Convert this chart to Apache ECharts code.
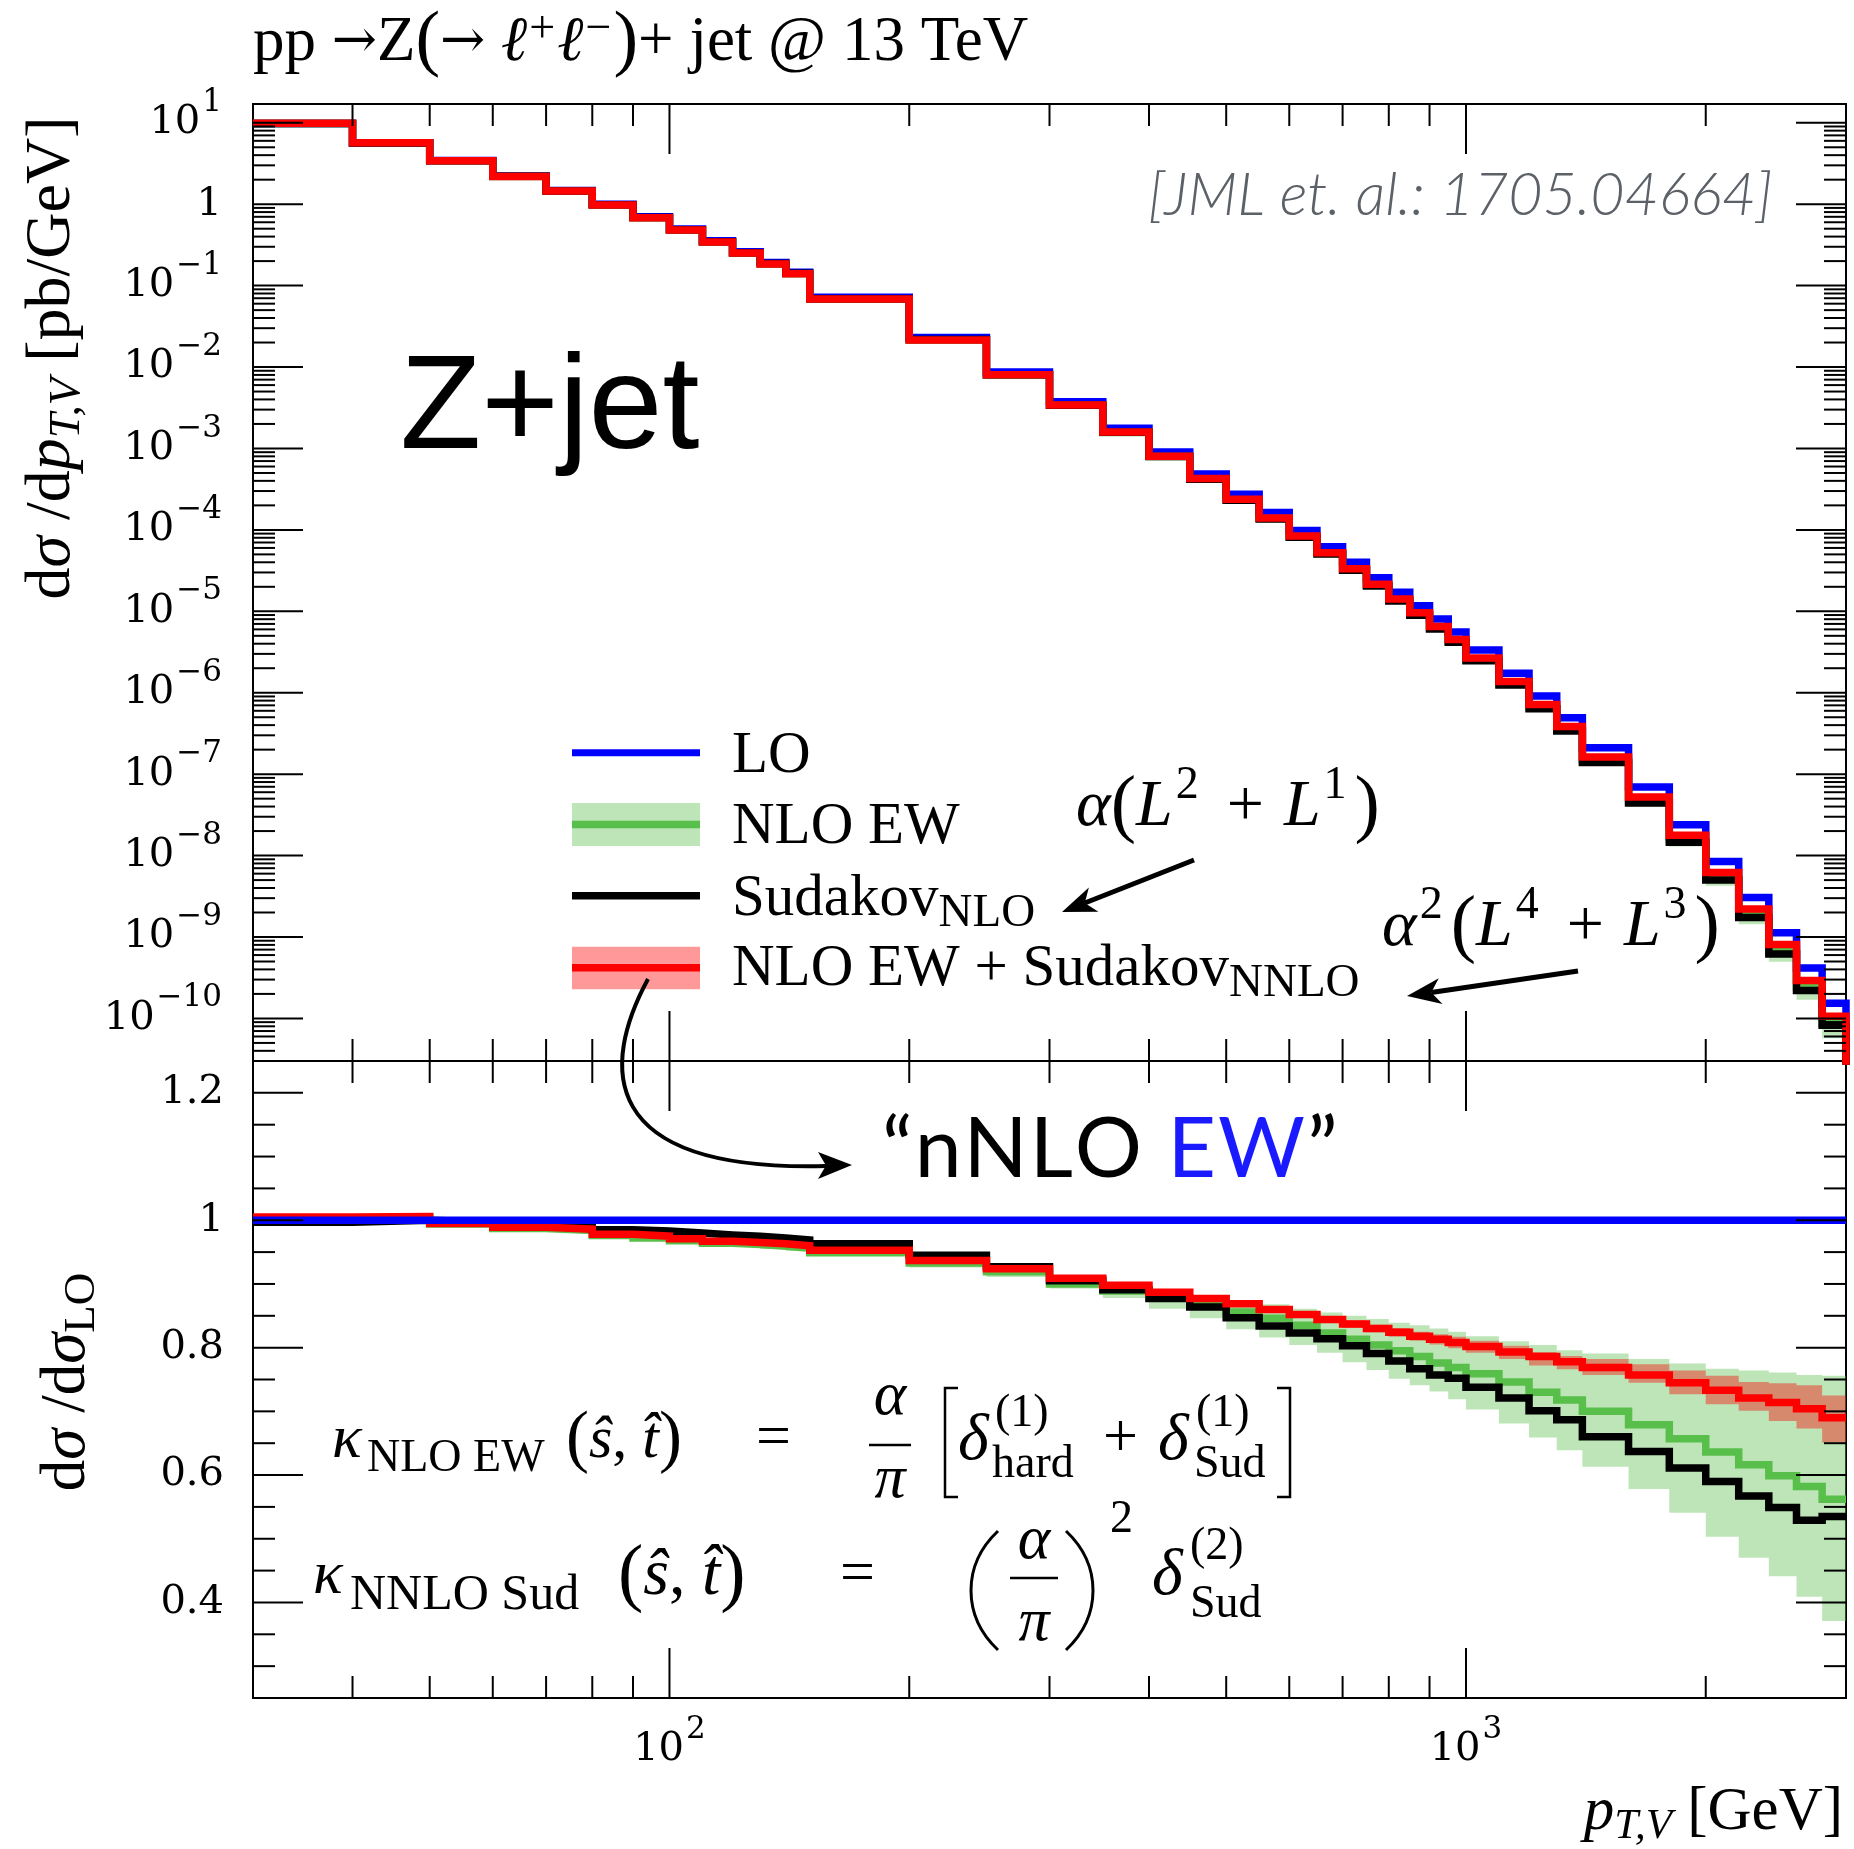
<!DOCTYPE html>
<html>
<head>
<meta charset="utf-8">
<script src="https://cdn.jsdelivr.net/npm/echarts@6.0.0/dist/echarts.min.js"></script>
<style>
  html, body { margin: 0; padding: 0; background: #ffffff; }
  #chart { width: 1854px; height: 1849px; }
</style>
</head>
<body>
<div id="chart"></div>
<script>
// ---------------------------------------------------------------------------
// Z+jet transverse-momentum spectrum at 13 TeV and ratios to LO
// ---------------------------------------------------------------------------

// Histogram bin edges in p_T,V [GeV]
const binEdges = [30, 40, 50, 60, 70, 80, 90, 100, 110, 120, 130, 140, 150, 200, 250, 300, 350, 400, 450, 500,
  550, 600, 650, 700, 750, 800, 850, 900, 950, 1000, 1100, 1200, 1300, 1400, 1600, 1800, 2000, 2200, 2400, 2600, 2800, 3000];

// LO differential cross section dσ/dp_T,V [pb/GeV]
const sigmaLO = [9.8, 5.64, 3.43, 2.22, 1.47, 1.0, 0.70, 0.495, 0.355, 0.26, 0.192, 0.146, 0.0718, 0.0230, 0.0087,
  0.00376, 0.00177, 9.06e-4, 4.86e-4, 2.73e-4, 1.63e-4, 9.86e-5, 6.22e-5, 3.99e-5, 2.59e-5, 1.72e-5, 1.17e-5,
  8.03e-6, 5.56e-6, 3.34e-6, 1.73e-6, 9.1e-7, 4.93e-7, 2.11e-7, 6.94e-8, 2.39e-8, 8.48e-9, 3.06e-9, 1.13e-9,
  4.15e-10, 1.54e-10];

// Ratios to LO
const ratioLO = [1, 1, 1, 1, 1, 1, 1, 1, 1, 1, 1, 1, 1, 1, 1, 1, 1, 1, 1, 1, 1, 1, 1, 1, 1, 1, 1, 1, 1, 1, 1, 1, 1,
  1, 1, 1, 1, 1, 1, 1, 1];
const ratioNLOEW = [1.002, 1.004, 0.994, 0.987, 0.984, 0.976, 0.972, 0.968, 0.964, 0.962, 0.959, 0.956, 0.949, 0.933,
  0.919, 0.900, 0.889, 0.878, 0.867, 0.856, 0.846, 0.835, 0.823, 0.813, 0.804, 0.795, 0.786, 0.776, 0.769, 0.759,
  0.746, 0.730, 0.718, 0.700, 0.679, 0.657, 0.636, 0.616, 0.599, 0.582, 0.562];
const ratioNLOEWLow = [0.999, 1.001, 0.991, 0.984, 0.981, 0.973, 0.969, 0.965, 0.961, 0.958, 0.955, 0.952, 0.944,
  0.926, 0.911, 0.893, 0.878, 0.861, 0.846, 0.829, 0.816, 0.804, 0.792, 0.777, 0.765, 0.751, 0.741, 0.731, 0.719,
  0.703, 0.681, 0.659, 0.639, 0.613, 0.578, 0.541, 0.503, 0.470, 0.441, 0.409, 0.371];
const ratioNLOEWHigh = [1.005, 1.007, 0.997, 0.990, 0.987, 0.979, 0.975, 0.971, 0.967, 0.965, 0.962, 0.959, 0.953,
  0.938, 0.925, 0.906, 0.898, 0.889, 0.881, 0.875, 0.868, 0.861, 0.855, 0.850, 0.845, 0.839, 0.835, 0.830, 0.825,
  0.818, 0.810, 0.804, 0.796, 0.791, 0.782, 0.775, 0.767, 0.764, 0.761, 0.757, 0.756];
const ratioSudakovNLO = [0.997, 1.000, 0.997, 0.993, 0.989, 0.985, 0.983, 0.980, 0.977, 0.975, 0.972, 0.969, 0.963,
  0.945, 0.927, 0.905, 0.891, 0.877, 0.864, 0.847, 0.834, 0.823, 0.814, 0.803, 0.791, 0.779, 0.767, 0.757, 0.752,
  0.738, 0.721, 0.701, 0.687, 0.660, 0.637, 0.611, 0.590, 0.567, 0.549, 0.529, 0.535];
const ratioNNLOSud = [1.005, 1.006, 0.995, 0.989, 0.986, 0.978, 0.975, 0.971, 0.967, 0.965, 0.963, 0.960, 0.953,
  0.937, 0.924, 0.909, 0.898, 0.887, 0.877, 0.869, 0.860, 0.852, 0.844, 0.837, 0.830, 0.824, 0.818, 0.813, 0.808,
  0.802, 0.793, 0.786, 0.778, 0.769, 0.757, 0.745, 0.733, 0.721, 0.714, 0.704, 0.690];
const ratioNNLOSudLow = [1.002, 1.003, 0.992, 0.986, 0.983, 0.975, 0.972, 0.968, 0.964, 0.962, 0.960, 0.957, 0.950,
  0.933, 0.920, 0.905, 0.893, 0.882, 0.872, 0.864, 0.855, 0.847, 0.839, 0.831, 0.824, 0.817, 0.811, 0.805, 0.799,
  0.792, 0.782, 0.772, 0.766, 0.757, 0.745, 0.727, 0.711, 0.701, 0.685, 0.673, 0.651];
const ratioNNLOSudHigh = [1.008, 1.009, 0.998, 0.992, 0.989, 0.981, 0.978, 0.974, 0.970, 0.968, 0.966, 0.963, 0.956,
  0.941, 0.928, 0.913, 0.903, 0.892, 0.882, 0.874, 0.865, 0.857, 0.849, 0.843, 0.836, 0.831, 0.825, 0.821, 0.817,
  0.811, 0.803, 0.793, 0.787, 0.782, 0.774, 0.764, 0.756, 0.746, 0.744, 0.741, 0.725];

// Axis ticks and tick labels
const xTickValues = [100, 1000];
const xTickLabels = [['10', '2'], ['10', '3']];
const xMinorTickValues = [40, 50, 60, 70, 80, 90, 200, 300, 400, 500, 600, 700, 800, 900, 2000];
const yMainTickValues = [10, 1, 1e-1, 1e-2, 1e-3, 1e-4, 1e-5, 1e-6, 1e-7, 1e-8, 1e-9, 1e-10];
const yMainTickLabels = [['10', '1'], ['1', ''], ['10', '−1'], ['10', '−2'], ['10', '−3'], ['10', '−4'],
  ['10', '−5'], ['10', '−6'], ['10', '−7'], ['10', '−8'], ['10', '−9'], ['10', '−10']];
const yMainMinorMultipliers = [2, 3, 4, 5, 6, 7, 8, 9];
const yRatioTickValues = [1.2, 1.0, 0.8, 0.6, 0.4];
const yRatioTickLabels = ['1.2', '1', '0.8', '0.6', '0.4'];
const yRatioMinorTickValues = [0.3, 0.35, 0.45, 0.5, 0.55, 0.65, 0.7, 0.75, 0.85, 0.9, 0.95, 1.05, 1.1, 1.15];

// Axis ranges
const X_MIN = 30, X_MAX = 3000;
const Y_MAIN_MIN = 3e-11, Y_MAIN_MAX = 17;
const Y_RATIO_MIN = 0.25, Y_RATIO_MAX = 1.25;
const HISTOGRAM_FLOOR = 1e-12; // histogram closes down to zero below the last edge

// Colours
const C_LO = '#0000ff';
const C_NLO = '#59bf4b';
const C_NLO_BAND = 'rgba(89,191,75,0.4)';
const C_SUD = '#000000';
const C_NNLO = '#ff0000';
const C_NNLO_BAND = 'rgba(255,0,0,0.4)';

const serif = '"Liberation Serif", "DejaVu Serif", serif';
const numSerif = '"DejaVu Serif", "Liberation Serif", serif';
const sans = '"Liberation Sans", Arial, sans-serif';

// Absolute spectra: LO times the respective ratio
const sigmaNLOEW = sigmaLO.map((v, i) => v * ratioNLOEW[i]);
const sigmaSudakovNLO = sigmaLO.map((v, i) => v * ratioSudakovNLO[i]);
const sigmaNNLOSud = sigmaLO.map((v, i) => v * ratioNNLOSud[i]);
const sigmaNLOEWLow = sigmaLO.map((v, i) => v * ratioNLOEWLow[i]);
const sigmaNLOEWHigh = sigmaLO.map((v, i) => v * ratioNLOEWHigh[i]);
const sigmaNNLOSudLow = sigmaLO.map((v, i) => v * ratioNNLOSudLow[i]);
const sigmaNNLOSudHigh = sigmaLO.map((v, i) => v * ratioNNLOSudHigh[i]);

// ---------------------------------------------------------------------------
// helpers
// ---------------------------------------------------------------------------
function histogramPoints(values, closeTo) {
  const pts = values.map((v, i) => [binEdges[i], v]);
  pts.push([binEdges[values.length], values[values.length - 1]]);
  if (closeTo !== undefined) pts.push([binEdges[values.length], closeTo]);
  return pts;
}

function stepSeries(panel, values, color, z, closeTo) {
  return {
    type: 'line', xAxisIndex: panel, yAxisIndex: panel, step: 'end',
    data: histogramPoints(values, closeTo),
    symbol: 'none', showSymbol: false, silent: true, clip: true, z: z,
    emphasis: { disabled: true },
    lineStyle: { color: color, width: 7.5, join: 'miter', cap: 'butt' }
  };
}

function bandSeries(panel, low, high, color, z) {
  return {
    type: 'custom', xAxisIndex: panel, yAxisIndex: panel, silent: true, clip: true, z: z,
    data: [[binEdges[0], low[0]]],
    renderItem: function (params, api) {
      const upper = [], lower = [];
      for (let i = 0; i < low.length; i++) {
        upper.push(api.coord([binEdges[i], high[i]]), api.coord([binEdges[i + 1], high[i]]));
        lower.push(api.coord([binEdges[i], low[i]]), api.coord([binEdges[i + 1], low[i]]));
      }
      return { type: 'polygon', shape: { points: upper.concat(lower.reverse()) }, style: { fill: color } };
    }
  };
}

const MAJOR_LEN = 50, MINOR_LEN = 22;

const tickRich = {
  b: { fontFamily: numSerif, fontSize: 40, lineHeight: 46, fill: '#000' },
  s: { fontFamily: numSerif, fontSize: 31, lineHeight: 34, padding: [0, 0, 40, 2], fill: '#000' }
};

function textEl(x, y, text, align, rich) {
  return {
    type: 'text', x: x, y: y,
    style: {
      text: text, x: 0, y: 0, align: align, verticalAlign: 'middle',
      textAlign: align, textVerticalAlign: 'middle', rich: rich, fill: '#000',
      fontFamily: numSerif, fontSize: 40
    }
  };
}

function frameTicks(panel) {
  return {
    type: 'custom', xAxisIndex: panel, yAxisIndex: panel, silent: true, clip: false, z: 30,
    data: [[100, 1]],
    renderItem: function (params, api) {
      const cs = params.coordSys;
      const L = cs.x, R = cs.x + cs.width, T = cs.y, B = cs.y + cs.height;
      const els = [];
      const seg = (x1, y1, x2, y2) => els.push({
        type: 'line', shape: { x1: x1, y1: y1, x2: x2, y2: y2 },
        style: { stroke: '#000', lineWidth: 2 }
      });
      const xPix = v => api.coord([v, 1])[0];
      const yPix = v => api.coord([100, v])[1];

      xTickValues.forEach(v => { const x = xPix(v); seg(x, T, x, T + MAJOR_LEN); seg(x, B, x, B - MAJOR_LEN); });
      xMinorTickValues.forEach(v => { const x = xPix(v); seg(x, T, x, T + MINOR_LEN); seg(x, B, x, B - MINOR_LEN); });

      let yMajor, yMinor;
      if (panel === 0) {
        yMajor = yMainTickValues;
        yMinor = [];
        for (let e = -11; e <= 1; e++) {
          yMainMinorMultipliers.forEach(m => {
            const v = m * Math.pow(10, e);
            if (v > Y_MAIN_MIN && v < Y_MAIN_MAX) yMinor.push(v);
          });
        }
      } else {
        yMajor = yRatioTickValues;
        yMinor = yRatioMinorTickValues;
      }
      yMajor.forEach(v => { const y = yPix(v); seg(L, y, L + MAJOR_LEN, y); seg(R, y, R - MAJOR_LEN, y); });
      yMinor.forEach(v => { const y = yPix(v); seg(L, y, L + MINOR_LEN, y); seg(R, y, R - MINOR_LEN, y); });

      // tick labels
      if (panel === 0) {
        yMainTickValues.forEach((v, i) => {
          const lab = yMainTickLabels[i];
          const t = lab[1] ? '{b|' + lab[0] + '}{s|' + lab[1] + '}' : '{b|' + lab[0] + '}';
          els.push(textEl(L - 31, yPix(v), t, 'right', tickRich));
        });
      } else {
        yRatioTickValues.forEach((v, i) => {
          els.push(textEl(L - 29, yPix(v), '{b|' + yRatioTickLabels[i] + '}', 'right', tickRich));
        });
        xTickValues.forEach((v, i) => {
          const lab = xTickLabels[i];
          els.push(textEl(xPix(v), B + 52, '{b|' + lab[0] + '}{s|' + lab[1] + '}', 'center', tickRich));
        });
      }
      return { type: 'group', children: els };
    }
  };
}

// ---------------------------------------------------------------------------
// annotation graphics (titles, legend, formulas)
// ---------------------------------------------------------------------------
function rt(x, y, text, rich, opts) {
  opts = opts || {};
  return {
    type: 'text', x: x, y: y, rotation: opts.rotation || 0, z: 100, silent: true,
    style: {
      text: text, x: 0, y: 0,
      align: opts.align || 'left', verticalAlign: 'middle',
      textAlign: opts.align || 'left', textVerticalAlign: 'middle',
      rich: rich, fill: opts.fill || '#000',
      font: opts.font || ('56px ' + serif)
    }
  };
}

function mathRich(size, subSize, gap) {
  gap = gap || 0;
  return {
    r: { fontFamily: serif, fontSize: size, fill: '#000' },
    i: { fontFamily: serif, fontSize: size, fontStyle: 'italic', fill: '#000' },
    p: { fontFamily: serif, fontSize: Math.round(size * 1.15), fill: '#000' },
    op: { fontFamily: serif, fontSize: size, padding: [0, gap, 0, gap], fill: '#000' },
    sub: { fontFamily: serif, fontSize: subSize, padding: [30, 0, 0, 1], fill: '#000' },
    sup: { fontFamily: serif, fontSize: subSize, padding: [0, 8, 44, 3], fill: '#000' }
  };
}

function arrow(tail, tip, width, headLen, headHalf) {
  const dx = tip[0] - tail[0], dy = tip[1] - tail[1];
  const d = Math.hypot(dx, dy), ux = dx / d, uy = dy / d, nx = -uy, ny = ux;
  const bx = tip[0] - ux * headLen, by = tip[1] - uy * headLen;
  const notch = [tip[0] - ux * headLen * 0.72, tip[1] - uy * headLen * 0.72];
  return [
    { type: 'line', z: 100, silent: true,
      shape: { x1: tail[0], y1: tail[1], x2: notch[0], y2: notch[1] },
      style: { stroke: '#000', lineWidth: width } },
    { type: 'polygon', z: 100, silent: true,
      shape: { points: [tip, [bx + nx * headHalf, by + ny * headHalf], notch, [bx - nx * headHalf, by - ny * headHalf]] },
      style: { fill: '#000' } }
  ];
}

// letter-spaced label: every character gets its own rich token
function spaced(str, style) {
  return str.split('').map(ch => '{' + style + '|' + ch + '}').join('');
}

const legendRich = {
  r: { fontFamily: serif, fontSize: 59, fill: '#000' },
  sub: { fontFamily: serif, fontSize: 47, padding: [30, 0, 0, 0], fill: '#000' }
};

const m66 = mathRich(66, 46, 20);
const subRich46 = { r: { fontFamily: serif, fontSize: 46 } };

const graphics = [
  // process title
  rt(253, 43, '{r|pp }{a|→}{r|Z}{p|(}{a|→}{r| }{i|ℓ}{u|+}{i|ℓ}{u|−}{p|)}{r|+ jet @ 13 TeV}', {
    r: { fontFamily: serif, fontSize: 63 },
    a: { fontFamily: '"DejaVu Serif", serif', fontSize: 54 },
    i: { fontFamily: serif, fontSize: 63, fontStyle: 'italic' },
    p: { fontFamily: serif, fontSize: 74 },
    u: { fontFamily: serif, fontSize: 46, padding: [0, 2, 26, 2] }
  }),
  // axis titles
  rt(52, 358, '{r|d}{i|σ}{r| /d}{i|p}{subi|T,V}{r| [pb/GeV]}', {
    r: { fontFamily: serif, fontSize: 64 },
    i: { fontFamily: serif, fontSize: 64, fontStyle: 'italic' },
    subi: { fontFamily: serif, fontSize: 45, fontStyle: 'italic', padding: [30, 0, 0, 0] }
  }, { rotation: Math.PI / 2, align: 'center' }),
  rt(67, 1382, '{r|d}{i|σ}{r| /d}{i|σ}{sub|LO}', {
    r: { fontFamily: serif, fontSize: 63 },
    i: { fontFamily: serif, fontSize: 63, fontStyle: 'italic' },
    sub: { fontFamily: serif, fontSize: 45, padding: [30, 0, 0, 0] }
  }, { rotation: Math.PI / 2, align: 'center' }),
  rt(1843, 1813, '{i|p}{subi|T,V}{r| [GeV]}', {
    r: { fontFamily: serif, fontSize: 61 },
    i: { fontFamily: serif, fontSize: 61, fontStyle: 'italic' },
    subi: { fontFamily: serif, fontSize: 43, fontStyle: 'italic', padding: [28, 0, 0, 0] }
  }, { align: 'right' }),
  // process label and reference
  rt(400, 411, 'Z+jet', null, { font: '133px ' + sans }),
  rt(1148, 196, '[JML et. al.: 1705.04664]', null, { font: 'italic 300 59px Lato, ' + sans, fill: '#5c6168' }),

  // legend symbols
  { type: 'line', z: 100, silent: true, shape: { x1: 572, y1: 752.7, x2: 700, y2: 752.7 }, style: { stroke: C_LO, lineWidth: 7 } },
  { type: 'rect', z: 100, silent: true, shape: { x: 572, y: 803, width: 128, height: 43 }, style: { fill: C_NLO_BAND } },
  { type: 'line', z: 101, silent: true, shape: { x1: 572, y1: 824.5, x2: 700, y2: 824.5 }, style: { stroke: C_NLO, lineWidth: 7.5 } },
  { type: 'line', z: 100, silent: true, shape: { x1: 572, y1: 895.8, x2: 700, y2: 895.8 }, style: { stroke: C_SUD, lineWidth: 7.5 } },
  { type: 'rect', z: 100, silent: true, shape: { x: 572, y: 946.7, width: 128, height: 42.6 }, style: { fill: C_NNLO_BAND } },
  { type: 'line', z: 101, silent: true, shape: { x1: 572, y1: 967.8, x2: 700, y2: 967.8 }, style: { stroke: C_NNLO, lineWidth: 7.5 } },
  // legend labels
  rt(732, 756, '{r|LO}', legendRich),
  rt(732, 827, '{r|NLO EW}', legendRich),
  rt(732, 899, '{r|Sudakov}{sub|NLO}', legendRich),
  rt(732, 969, '{r|NLO EW + Sudakov}{sub|NNLO}', legendRich),

  // logarithmic-order annotations
  rt(1076, 808, '{i|α}{p|(}{i|L}{sup|2}{op|+}{i|L}{sup|1}{p|)}', m66),
  rt(1382, 928, '{i|α}{sup|2}{p|(}{i|L}{sup|4}{op|+}{i|L}{sup|3}{p|)}', m66),
  ...arrow([1194, 860], [1062, 912], 5, 34, 13),
  ...arrow([1578, 971], [1407, 996], 5, 34, 13),

  // nNLO EW label with curved arrow from the legend
  rt(881, 1150, spaced('“nNLO ', 'q') + spaced('EW', 'e') + spaced('”', 'q'), {
    q: { fontFamily: 'Lato, ' + sans, fontWeight: 400, fontSize: 84, padding: [0, 1, 0, 1], fill: '#000' },
    e: { fontFamily: 'Lato, ' + sans, fontWeight: 400, fontSize: 84, padding: [0, 1, 0, 1], fill: '#1a1aff' }
  }),
  { type: 'bezierCurve', z: 100, silent: true,
    shape: { x1: 648, y1: 979, cpx1: 602, cpy1: 1064, cpx2: 594, cpy2: 1172, x2: 826, y2: 1166 },
    style: { stroke: '#000', lineWidth: 4, fill: null } },
  { type: 'polygon', z: 100, silent: true,
    shape: { points: [[852, 1165], [818, 1152], [826, 1165.5], [818, 1179]] }, style: { fill: '#000' } },

  // kappa_NLO EW formula
  rt(332, 1441, '{i|κ}', mathRich(62, 44)),
  rt(367, 1459, '{r|NLO EW}', subRich46),
  rt(566, 1441, '{p|(}{i|ŝ}{r|, }{i|t̂}{p|)}', mathRich(60, 44)),
  rt(756, 1440, '{r|=}', mathRich(62, 44)),
  rt(890, 1398, '{i|α}', mathRich(62, 44), { align: 'center' }),
  { type: 'line', z: 100, silent: true, shape: { x1: 869, y1: 1445, x2: 911, y2: 1445 }, style: { stroke: '#000', lineWidth: 2.5 } },
  rt(890, 1481, '{i|π}', mathRich(62, 44), { align: 'center' }),
  { type: 'polyline', z: 100, silent: true, shape: { points: [[958, 1388], [945, 1388], [945, 1497], [958, 1497]] },
    style: { stroke: '#000', lineWidth: 2.5, fill: null } },
  rt(958, 1442, '{i|δ}', mathRich(66, 44)),
  rt(995, 1414, '{r|(1)}', subRich46),
  rt(992, 1465, '{r|hard}', subRich46),
  rt(1103, 1440, '{r|+}', mathRich(62, 44)),
  rt(1158, 1442, '{i|δ}', mathRich(66, 44)),
  rt(1196, 1414, '{r|(1)}', subRich46),
  rt(1194, 1465, '{r|Sud}', subRich46),
  { type: 'polyline', z: 100, silent: true, shape: { points: [[1277, 1388], [1290, 1388], [1290, 1497], [1277, 1497]] },
    style: { stroke: '#000', lineWidth: 2.5, fill: null } },

  // kappa_NNLO Sud formula
  rt(313, 1577, '{i|κ}', mathRich(62, 44)),
  rt(350, 1596, '{r|NNLO Sud}', { r: { fontFamily: serif, fontSize: 50 } }),
  rt(618, 1577, '{p|(}{i|ŝ}{r|, }{i|t̂}{p|)}', mathRich(66, 44)),
  rt(840, 1576, '{r|=}', mathRich(62, 44)),
  { type: 'bezierCurve', z: 100, silent: true,
    shape: { x1: 998, y1: 1531, cpx1: 962, cpy1: 1565, cpx2: 962, cpy2: 1616, x2: 998, y2: 1650 },
    style: { stroke: '#000', lineWidth: 3, fill: null } },
  rt(1034, 1542, '{i|α}', mathRich(62, 44), { align: 'center' }),
  { type: 'line', z: 100, silent: true, shape: { x1: 1010, y1: 1578, x2: 1058, y2: 1578 }, style: { stroke: '#000', lineWidth: 2.5 } },
  rt(1034, 1624, '{i|π}', mathRich(62, 44), { align: 'center' }),
  { type: 'bezierCurve', z: 100, silent: true,
    shape: { x1: 1066, y1: 1531, cpx1: 1102, cpy1: 1565, cpx2: 1102, cpy2: 1616, x2: 1066, y2: 1650 },
    style: { stroke: '#000', lineWidth: 3, fill: null } },
  rt(1110, 1520, '{r|2}', subRich46),
  rt(1152, 1577, '{i|δ}', mathRich(66, 44)),
  rt(1190, 1547, '{r|(2)}', subRich46),
  rt(1190, 1605, '{r|Sud}', subRich46)
];

// ---------------------------------------------------------------------------
// chart
// ---------------------------------------------------------------------------
const hiddenAxisParts = {
  axisLine: { show: false }, axisTick: { show: false }, axisLabel: { show: false },
  splitLine: { show: false }, minorTick: { show: false }, minorSplitLine: { show: false }
};

const chart = echarts.init(document.getElementById('chart'), null, { width: 1854, height: 1849 });

chart.setOption({
  animation: false,
  backgroundColor: '#ffffff',
  grid: [
    { left: 253, top: 104, width: 1593, height: 957, show: true, borderColor: '#000', borderWidth: 2, backgroundColor: 'rgba(0,0,0,0)' },
    { left: 253, top: 1061, width: 1593, height: 637, show: true, borderColor: '#000', borderWidth: 2, backgroundColor: 'rgba(0,0,0,0)' }
  ],
  xAxis: [
    Object.assign({ type: 'log', logBase: 10, min: X_MIN, max: X_MAX, gridIndex: 0 }, hiddenAxisParts),
    Object.assign({ type: 'log', logBase: 10, min: X_MIN, max: X_MAX, gridIndex: 1 }, hiddenAxisParts)
  ],
  yAxis: [
    Object.assign({ type: 'log', logBase: 10, min: Y_MAIN_MIN, max: Y_MAIN_MAX, gridIndex: 0 }, hiddenAxisParts),
    Object.assign({ type: 'value', min: Y_RATIO_MIN, max: Y_RATIO_MAX, gridIndex: 1 }, hiddenAxisParts)
  ],
  series: [
    // spectrum panel
    bandSeries(0, sigmaNLOEWLow, sigmaNLOEWHigh, C_NLO_BAND, 1),
    stepSeries(0, sigmaLO, C_LO, 2, HISTOGRAM_FLOOR),
    stepSeries(0, sigmaNLOEW, C_NLO, 3, HISTOGRAM_FLOOR),
    stepSeries(0, sigmaSudakovNLO, C_SUD, 4, HISTOGRAM_FLOOR),
    bandSeries(0, sigmaNNLOSudLow, sigmaNNLOSudHigh, C_NNLO_BAND, 5),
    stepSeries(0, sigmaNNLOSud, C_NNLO, 6, HISTOGRAM_FLOOR),
    frameTicks(0),
    // ratio panel
    bandSeries(1, ratioNLOEWLow, ratioNLOEWHigh, C_NLO_BAND, 1),
    stepSeries(1, ratioNLOEW, C_NLO, 3),
    stepSeries(1, ratioSudakovNLO, C_SUD, 4),
    bandSeries(1, ratioNNLOSudLow, ratioNNLOSudHigh, C_NNLO_BAND, 5),
    stepSeries(1, ratioNNLOSud, C_NNLO, 6),
    stepSeries(1, ratioLO, C_LO, 7),
    frameTicks(1)
  ],
  graphic: { elements: graphics }
});
</script>
</body>
</html>
